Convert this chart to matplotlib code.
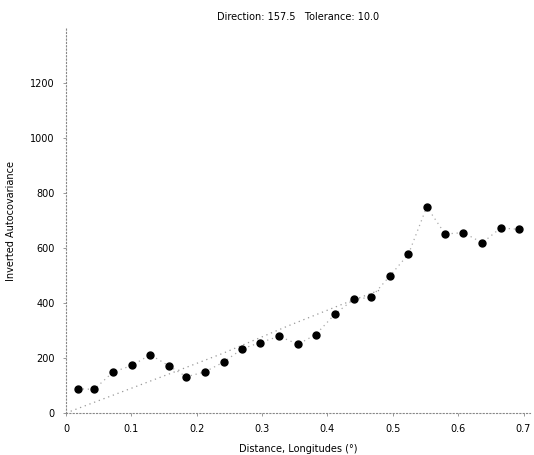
import matplotlib
matplotlib.use("Agg")
import matplotlib.pyplot as plt

# binned autocovariance values
lag_x = [0.018, 0.043, 0.072, 0.101, 0.129, 0.157, 0.184, 0.212, 0.241,
         0.270, 0.297, 0.326, 0.355, 0.382, 0.412, 0.440, 0.467, 0.495,
         0.524, 0.552, 0.580, 0.608, 0.637, 0.665, 0.693]
cov_y = [88, 86, 149, 173, 212, 172, 132, 149, 185,
         234, 256, 279, 250, 285, 361, 413, 421, 497,
         578, 750, 651, 656, 619, 673, 668]

# fitted model line
model_x = [0.0, 0.08, 0.16, 0.24, 0.34, 0.42, 0.48]
model_y = [0, 72, 144, 217, 317, 393, 447]

title = "Direction: 157.5   Tolerance: 10.0"
xlabel = "Distance, Longitudes (°)"
ylabel = "Inverted Autocovariance"
xticks = [0, 0.1, 0.2, 0.3, 0.4, 0.5, 0.6, 0.7]
xtick_labels = ["0", "0.1", "0.2", "0.3", "0.4", "0.5", "0.6", "0.7"]
yticks = [0, 200, 400, 600, 800, 1000, 1200]

fig = plt.figure(figsize=(5.34, 4.55), dpi=100)
ax = fig.add_axes([0.1236, 0.0923, 0.869, 0.846])

ax.plot(model_x, model_y, color="#999999", lw=0.9, ls=(0, (1, 3)))
ax.plot(lag_x, cov_y, color="#aaaaaa", lw=0.9, ls=(0, (1, 3)))
ax.plot(lag_x, cov_y, ls="none", marker="o", ms=5, color="black")

ax.set_xlim(0, 0.71)
ax.set_ylim(0, 1400)
ax.set_xticks(xticks)
ax.set_xticklabels(xtick_labels)
ax.set_yticks(yticks)

for s in ["top", "right"]:
    ax.spines[s].set_visible(False)
for s in ["left", "bottom"]:
    ax.spines[s].set_linestyle((0, (1, 2)))
    ax.spines[s].set_color("#888888")
    ax.spines[s].set_linewidth(0.8)

ax.tick_params(labelsize=7, length=2, width=0.6, color="#888888", pad=6)
ax.set_title(title, fontsize=7, pad=6)
ax.set_xlabel(xlabel, fontsize=7, labelpad=7)
ax.set_ylabel(ylabel, fontsize=7, labelpad=10)

plt.savefig("out.png", dpi=100)
plt.close()
